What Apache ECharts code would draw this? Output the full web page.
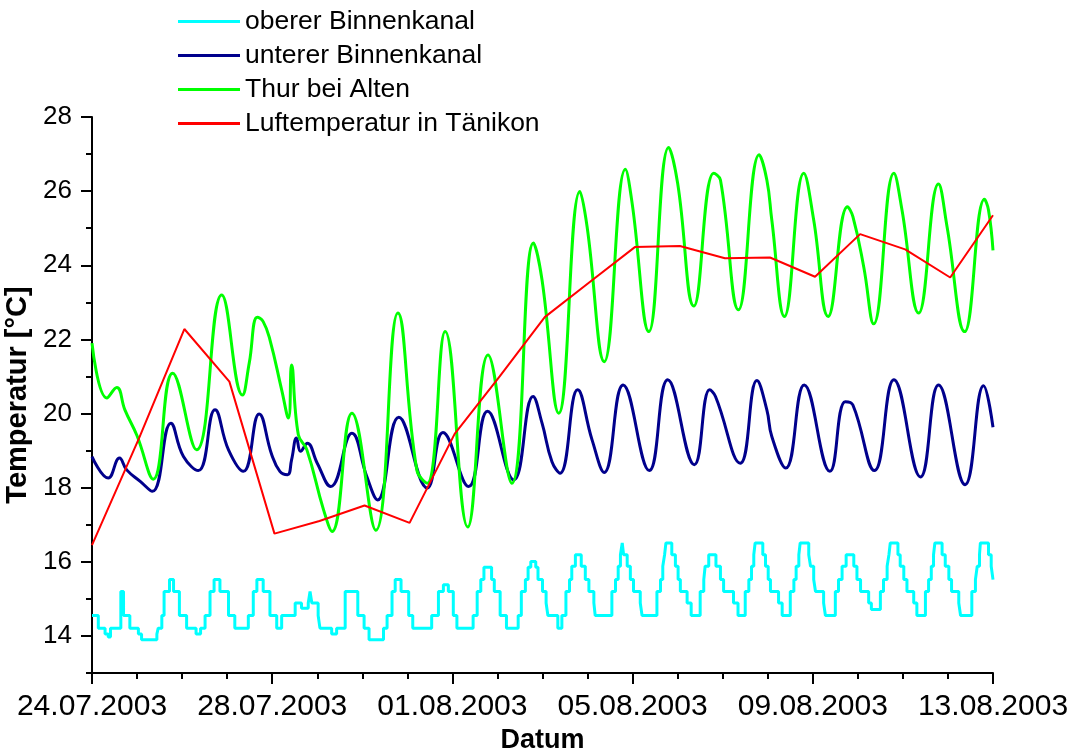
<!DOCTYPE html>
<html>
<head>
<meta charset="utf-8">
<script src="https://cdn.jsdelivr.net/npm/echarts@6/dist/echarts.min.js"></script>
<style>
html,body{margin:0;padding:0;background:#fff;}
#chart{width:1071px;height:749px;}
</style>
</head>
<body>
<div id="chart"></div>
<script>
// x values are days since 24.07.2003 00:00
const xTickLabels = ['24.07.2003','28.07.2003','01.08.2003','05.08.2003','09.08.2003','13.08.2003'];
const seriesNames = ['oberer Binnenkanal','unterer Binnenkanal','Thur bei Alten','Luftemperatur in Tänikon'];

// oberer Binnenkanal (stepped, value holds from given day)
const oberer = [
 [0.00,14.55],[0.14,14.21],[0.29,14.05],[0.36,13.97],[0.41,14.21],[0.64,15.2],[0.70,14.55],[0.84,14.21],
 [1.03,14.05],[1.10,13.9],[1.44,14.05],[1.47,14.21],[1.55,14.55],[1.60,15.2],[1.72,15.52],[1.81,15.2],[1.94,14.55],
 [2.10,14.21],[2.31,14.05],[2.41,14.21],[2.51,14.55],[2.62,15.2],[2.71,15.52],[2.84,15.2],
 [3.03,14.55],[3.17,14.21],[3.47,14.55],[3.58,15.2],[3.66,15.52],[3.80,15.2],[3.95,14.55],
 [4.10,14.21],[4.21,14.55],[4.51,14.89],[4.65,14.75],[4.80,14.89],[4.84,15.2],[4.88,14.89],
 [5.02,14.55],[5.06,14.21],[5.32,14.05],[5.43,14.21],[5.62,15.2],[5.90,14.55],
 [6.04,14.21],[6.15,13.9],[6.47,14.21],[6.55,14.55],[6.66,15.2],[6.73,15.52],[6.86,15.2],
 [7.03,14.55],[7.12,14.21],[7.54,14.55],[7.69,15.2],[7.80,15.38],[7.91,15.2],
 [8.02,14.55],[8.10,14.21],[8.46,14.55],[8.55,15.2],[8.63,15.52],[8.70,15.85],[8.87,15.52],[8.93,15.2],
 [9.06,14.55],[9.20,14.21],[9.46,14.55],[9.53,15.2],[9.62,15.52],[9.68,15.85],[9.74,16.01],[9.85,15.85],[9.90,15.52],
 [10.00,15.2],[10.08,14.89],[10.12,14.55],[10.34,14.21],[10.43,14.55],[10.52,15.2],[10.60,15.52],[10.65,15.88],[10.73,16.19],[10.86,15.88],[10.95,15.52],
 [11.03,15.2],[11.14,14.89],[11.17,14.55],[11.54,15.2],[11.62,15.52],[11.68,15.88],[11.73,16.19],[11.77,16.51],[11.80,16.19],[11.88,15.88],[11.95,15.52],
 [12.02,15.2],[12.17,14.89],[12.21,14.55],[12.54,15.2],[12.62,15.52],[12.67,15.88],[12.71,16.19],[12.74,16.51],[12.87,16.19],[12.95,15.88],
 [13.01,15.52],[13.06,15.2],[13.21,14.89],[13.30,14.55],[13.50,15.2],[13.58,15.52],[13.61,15.88],[13.69,16.19],[13.85,15.88],[13.95,15.52],
 [14.02,15.2],[14.24,14.89],[14.34,14.55],[14.50,15.2],[14.58,15.52],[14.64,15.88],[14.69,16.19],[14.72,16.51],[14.89,16.19],[14.95,15.88],
 [15.01,15.52],[15.06,15.2],[15.24,14.89],[15.32,14.55],[15.50,15.2],[15.58,15.52],[15.63,15.88],[15.69,16.19],[15.72,16.51],[15.91,16.19],[15.95,15.88],
 [16.02,15.52],[16.06,15.2],[16.24,14.89],[16.28,14.55],[16.50,15.2],[16.57,15.52],[16.65,15.88],[16.74,16.19],[16.91,15.88],[16.98,15.52],
 [17.06,15.2],[17.24,14.89],[17.30,14.71],[17.50,15.2],[17.57,15.52],[17.65,15.88],[17.69,16.19],[17.72,16.51],[17.89,16.19],[17.94,15.88],
 [18.02,15.52],[18.09,15.2],[18.24,14.89],[18.31,14.55],[18.50,15.2],[18.57,15.52],[18.63,15.88],[18.68,16.19],[18.71,16.51],[18.87,16.19],[18.94,15.88],
 [19.02,15.52],[19.08,15.2],[19.24,14.89],[19.28,14.55],[19.53,15.2],[19.61,15.52],[19.65,15.88],[19.70,16.19],[19.72,16.51],[19.90,16.19],[19.96,15.88],
 [20.00,15.52]
];

// unterer Binnenkanal
const unterer = [
 [0.00,18.84],[0.36,18.26],[0.61,18.8],[0.77,18.48],[1.07,18.17],[1.34,17.9],[1.75,19.74],[2.03,18.84],[2.36,18.46],
 [2.73,20.1],[3.03,19.02],[3.36,18.44],[3.71,19.99],[3.99,18.89],[4.17,18.44],[4.34,18.35],[4.43,18.75],[4.54,19.34],
 [4.63,18.98],[4.78,19.2],[5.00,18.66],[5.30,18.03],[5.77,19.47],[6.10,18.3],[6.34,17.67],[6.81,19.9],[7.44,17.99],
 [7.79,19.49],[8.36,18.03],[8.78,20.06],[9.36,18.21],[9.79,20.46],[9.99,19.74],[10.21,18.7],[10.39,18.39],[10.78,20.64],
 [11.10,19.29],[11.37,18.41],[11.79,20.77],[12.37,18.46],[12.78,20.91],[13.37,18.62],[13.71,20.64],[13.84,20.46],
 [14.39,18.66],[14.76,20.89],[14.98,20.1],[15.09,19.38],[15.40,18.53],[15.81,20.77],[16.38,18.44],[16.72,20.32],
 [16.89,20.23],[17.37,18.46],[17.80,20.91],[18.39,18.29],[18.79,20.77],[19.38,18.08],[19.79,20.75],[20.00,19.63]
];

// Thur bei Alten
const thur = [
 [0.00,21.9],[0.33,20.42],[0.55,20.7],[0.73,20.1],[1.00,19.4],[1.36,18.23],[1.79,21.09],[2.32,19.02],[2.88,23.2],
 [3.34,20.5],[3.49,21.36],[3.67,22.6],[3.80,22.48],[3.95,21.99],[4.21,20.64],[4.36,19.88],[4.43,21.31],[4.58,19.43],
 [4.77,19.02],[5.14,17.4],[5.33,16.82],[5.77,20.01],[6.30,16.85],[6.79,22.71],[7.21,18.48],[7.44,18.12],[7.84,22.21],
 [8.34,16.94],[8.79,21.58],[9.32,18.12],[9.80,24.6],[9.99,23.6],[10.36,20.01],[10.83,25.99],[10.99,25.04],[11.37,21.4],
 [11.84,26.59],[11.99,25.67],[12.36,22.21],[12.80,27.18],[13.00,26.21],[13.36,22.9],[13.80,26.48],[13.95,26.3],
 [14.35,22.8],[14.81,26.98],[14.98,26.3],[15.09,25.22],[15.37,22.62],[15.80,26.48],[16.02,25.22],[16.34,22.62],
 [16.77,25.58],[16.89,25.31],[17.13,23.96],[17.35,22.42],[17.80,26.48],[17.98,25.49],[18.35,22.71],[18.79,26.19],
 [18.98,25.04],[19.37,22.21],[19.81,25.78],[19.90,25.49],[20.00,24.4]
];

// Luftemperatur in Tänikon (daily)
const luft = [
 [0.00,16.45],[1.05,19.35],[2.05,22.28],[3.05,20.86],[4.05,16.76],[5.05,17.1],[6.05,17.52],[7.05,17.05],
 [8.05,19.45],[9.05,21.0],[10.05,22.6],[11.05,23.55],[12.05,24.49],[13.05,24.52],[14.05,24.19],[15.05,24.21],
 [16.05,23.69],[17.05,24.84],[18.05,24.43],[19.05,23.67],[20.00,25.35]
];

const yMajorTicks = [14,16,18,20,22,24,26,28];

const FONT = "'Liberation Sans', Arial, sans-serif";
const chart = echarts.init(document.getElementById('chart'), null, {renderer:'canvas'});
const axisLineStyle = {color:'#000', width:2};

chart.setOption({
  animation:false,
  backgroundColor:'#fff',
  textStyle:{fontFamily:FONT, color:'#000'},
  grid:{left:92, right:78, top:117, bottom:76, containLabel:false, outerBoundsMode:'none'},
  legend:{
    orient:'vertical', left:178, top:8, padding:0,
    itemWidth:62, itemHeight:3, itemGap:7, selectedMode:false,
    icon:'rect',
    data:seriesNames,
    textStyle:{fontSize:26.5, lineHeight:26.5, color:'#000', fontFamily:FONT}
  },
  xAxis:{
    type:'value', min:0, max:20, interval:4,
    axisLine:{show:true, lineStyle:axisLineStyle},
    axisTick:{show:true, length:11, lineStyle:axisLineStyle},
    minorTick:{show:true, splitNumber:4, length:6, lineStyle:axisLineStyle},
    splitLine:{show:false}, minorSplitLine:{show:false},
    axisLabel:{formatter:v => xTickLabels[Math.round(v/4)] || '', fontSize:30, color:'#000', margin:19, fontFamily:FONT},
    name:'Datum', nameLocation:'middle', nameGap:51,
    nameTextStyle:{fontWeight:'bold', fontSize:27, color:'#000', fontFamily:FONT}
  },
  yAxis:[
    {
      type:'value', min:13, max:28, interval:1, position:'left',
      axisLine:{show:true, lineStyle:axisLineStyle},
      axisTick:{show:true, length:6, lineStyle:axisLineStyle},
      splitLine:{show:false},
      axisLabel:{formatter:v => (v % 2 === 0 ? String(v) : ''), fontSize:26, color:'#000', margin:20, fontFamily:FONT},
      name:'Temperatur [°C]', nameLocation:'middle', nameGap:51, nameRotate:90,
      nameTextStyle:{fontWeight:'bold', fontSize:29, color:'#000', fontFamily:FONT}
    },
    {
      type:'value', min:13, max:28, interval:1, position:'left', offset:0,
      axisLine:{show:false},
      axisTick:{show:true, length:11, customValues:yMajorTicks, lineStyle:axisLineStyle},
      axisLabel:{show:false},
      splitLine:{show:false}
    }
  ],
  series:[
    {name:seriesNames[0], type:'line', data:oberer, step:'end', symbol:'none',
     lineStyle:{color:'#00FFFF', width:3}, itemStyle:{color:'#00FFFF'}},
    {name:seriesNames[1], type:'line', data:unterer, smooth:0.45, symbol:'none',
     lineStyle:{color:'#00008C', width:3}, itemStyle:{color:'#00008C'}},
    {name:seriesNames[2], type:'line', data:thur, smooth:0.45, symbol:'none',
     lineStyle:{color:'#00FF00', width:3}, itemStyle:{color:'#00FF00'}},
    {name:seriesNames[3], type:'line', data:luft, symbol:'none',
     lineStyle:{color:'#FF0000', width:2}, itemStyle:{color:'#FF0000'}}
  ]
});
</script>
</body>
</html>
